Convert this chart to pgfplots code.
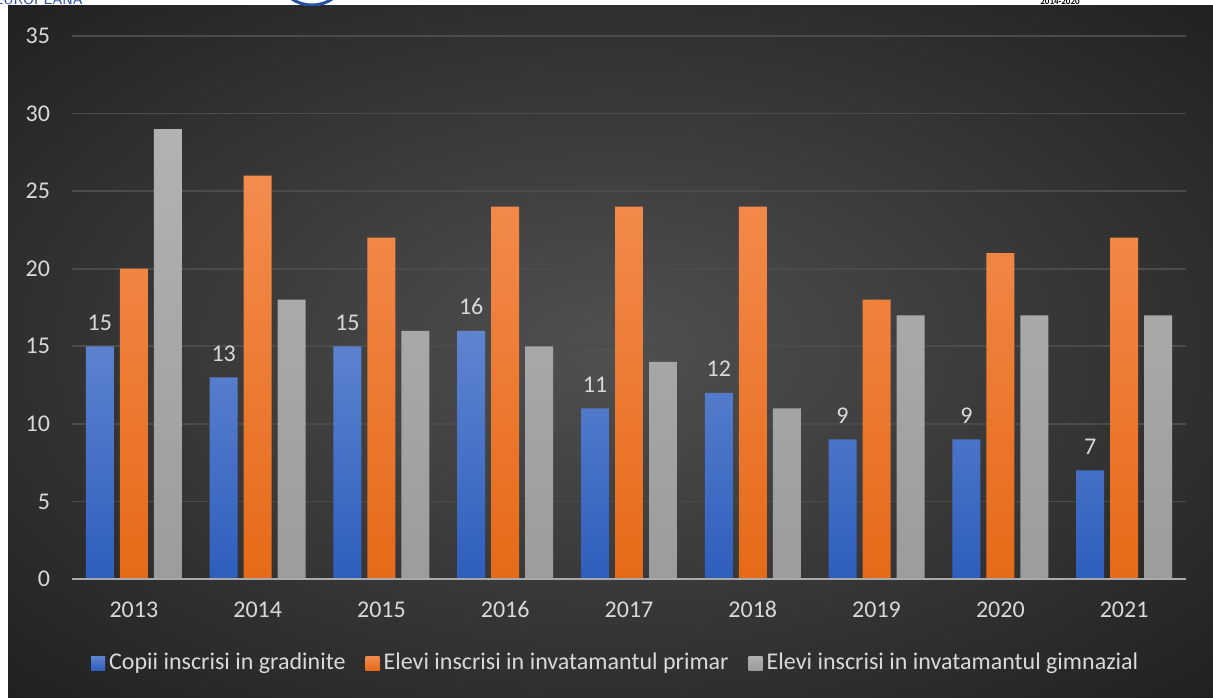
\documentclass[border=0pt]{standalone}
\usepackage{pgfplots}
\pgfplotsset{compat=1.18}
\usepackage{fontspec}
\setmainfont{Carlito}
\definecolor{txt}{RGB}{217,217,217}
\definecolor{gridc}{RGB}{75,75,75}
\definecolor{zeroc}{RGB}{170,170,170}
\definecolor{btop}{RGB}{95,133,208}
\definecolor{bbot}{RGB}{46,94,189}
\definecolor{otop}{RGB}{243,140,78}
\definecolor{obot}{RGB}{230,106,24}
\definecolor{gtop}{RGB}{178,178,178}
\definecolor{gbot}{RGB}{156,156,156}
\definecolor{bgin}{RGB}{80,80,80}
\definecolor{bgout}{RGB}{33,33,33}
\definecolor{hdrblue}{RGB}{40,80,160}
\begin{document}
\begin{tikzpicture}[x=0.5pt,y=0.5pt]
\fill[white] (0,0) rectangle (1213,697);
\begin{scope}
\clip (8,0) rectangle (1213,691);
\shade[inner color=bgin, outer color=bgout] (-241,-139) rectangle (1462,837);
\end{scope}
\begin{scope}
\clip (0,691) rectangle (1213,697);
\node[anchor=base west, inner sep=0pt, text=hdrblue, font=\fontsize{7}{8}\selectfont\sffamily] at (-6,692) {EUROPEANA};
\draw[hdrblue, line width=1.5pt] (312,712) ellipse (28 and 20);
\node[anchor=base west, inner sep=0pt, text=black, font=\fontsize{4.5}{5}\selectfont\bfseries] at (1040,692.5) {2014-2020};
\end{scope}
\begin{axis}[
  at={(36pt,59pt)}, anchor=south west,
  scale only axis, width=557pt, height=271.5pt,
  xmin=-0.5, xmax=8.5, ymin=0, ymax=35,
  xtick={0,...,8},
  xticklabels={2013,2014,2015,2016,2017,2018,2019,2020,2021},
  ytick={0,5,...,35},
  major tick length=0pt,
  axis line style={draw=none},
  ymajorgrids, grid style={gridc, line width=0.8pt},
  ticklabel style={text=txt, font=\fontsize{12}{14}\selectfont},
  /pgf/number format/assume math mode=true,
  xticklabel style={yshift=-7pt, text height=8.5pt, text depth=0pt},
  yticklabel style={xshift=-7.5pt},
  bar width=0.226,
  legend columns=3,
  legend style={at={(0.489,-0.1547)}, anchor=center, draw=none, fill=none,
    text=txt, font=\fontsize{12}{14}\selectfont,
    /tikz/every odd column/.append style={column sep=0pt},
    /tikz/every even column/.append style={column sep=8pt},
    /tikz/every node/.append style={inner xsep=2pt}},
  legend image code/.code={\fill[#1] (0pt,-3.5pt) rectangle (7pt,3.5pt);},
  clip=false,
]
\addplot[ybar, bar shift=-0.2747, draw=none, top color=btop, bottom color=bbot,
  nodes near coords, nodes near coords style={text=txt, font=\fontsize{12}{14}\selectfont, anchor=south, yshift=4.5pt, xshift=-17pt}]
  coordinates {(0,15) (1,13) (2,15) (3,16) (4,11) (5,12) (6,9) (7,9) (8,7)};
\addplot[ybar, bar shift=0, draw=none, top color=otop, bottom color=obot]
  coordinates {(0,20) (1,26) (2,22) (3,24) (4,24) (5,24) (6,18) (7,21) (8,22)};
\addplot[ybar, bar shift=0.2747, draw=none, top color=gtop, bottom color=gbot]
  coordinates {(0,29) (1,18) (2,16) (3,15) (4,14) (5,11) (6,17) (7,17) (8,17)};
\draw[zeroc, line width=1pt] (axis cs:-0.5,0) -- (axis cs:8.5,0);
\legend{Copii inscrisi in gradinite, Elevi inscrisi in invatamantul primar, Elevi inscrisi in invatamantul gimnazial}
\end{axis}
\end{tikzpicture}
\end{document}
